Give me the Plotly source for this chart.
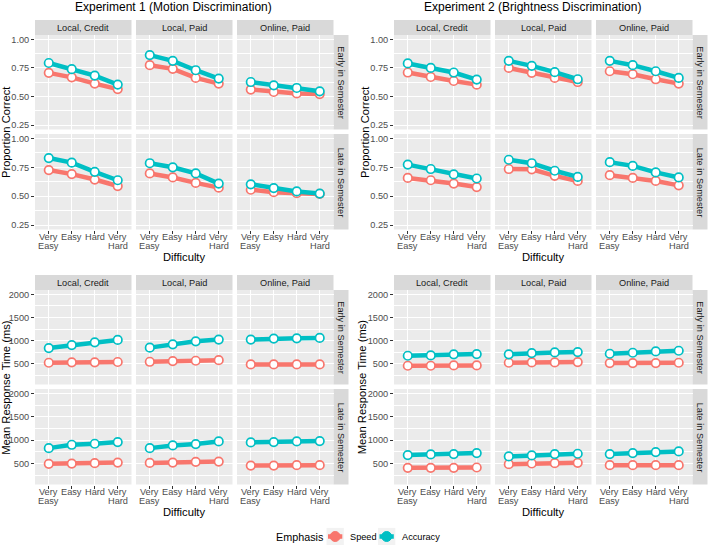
import plotly.graph_objects as go

# ---------------- data ----------------
difficulty = ["Very Easy", "Easy", "Hard", "Very Hard"]
difficulty_lines = [["Very", "Easy"], ["Easy"], ["Hard"], ["Very", "Hard"]]
conditions = ["Local, Credit", "Local, Paid", "Online, Paid"]
semesters = ["Early in Semester", "Late in Semester"]
emphasis = ["Speed", "Accuracy"]
experiment_titles = ["Experiment 1 (Motion Discrimination)", "Experiment 2 (Brightness Discrimination)"]

pc_ticks = [0.25, 0.50, 0.75, 1.00]
pc_ticklabels = ["0.25", "0.50", "0.75", "1.00"]
pc_minor = [0.375, 0.625, 0.875]
rt_ticks = [500, 1000, 1500, 2000]
rt_ticklabels = ["500", "1000", "1500", "2000"]
rt_minor = [250, 750, 1250, 1750]

# Experiment 1, proportion correct (one list per condition)
e1_pc_speed_early = [[0.707, 0.668, 0.613, 0.565], [0.774, 0.742, 0.663, 0.613], [0.561, 0.540, 0.527, 0.522]]
e1_pc_acc_early = [[0.793, 0.739, 0.683, 0.605], [0.862, 0.812, 0.730, 0.657], [0.627, 0.598, 0.575, 0.546]]
e1_pc_speed_late = [[0.726, 0.691, 0.644, 0.588], [0.697, 0.662, 0.615, 0.574], [0.556, 0.535, 0.526, 0.520]]
e1_pc_acc_late = [[0.830, 0.790, 0.711, 0.638], [0.785, 0.750, 0.697, 0.609], [0.603, 0.570, 0.541, 0.523]]

# Experiment 2, proportion correct
e2_pc_speed_early = [[0.710, 0.671, 0.636, 0.604], [0.750, 0.707, 0.663, 0.627], [0.721, 0.695, 0.651, 0.613]]
e2_pc_acc_early = [[0.789, 0.750, 0.710, 0.648], [0.812, 0.768, 0.713, 0.651], [0.812, 0.774, 0.721, 0.663]]
e2_pc_speed_late = [[0.658, 0.638, 0.609, 0.579], [0.735, 0.732, 0.676, 0.632], [0.682, 0.658, 0.632, 0.594]]
e2_pc_acc_late = [[0.773, 0.735, 0.688, 0.653], [0.815, 0.785, 0.720, 0.667], [0.794, 0.762, 0.706, 0.662]]

# Experiment 1, mean response time (ms)
e1_rt_speed_early = [[522, 530, 530, 538], [543, 557, 565, 578], [485, 485, 485, 485]]
e1_rt_acc_early = [[839, 904, 963, 1015], [848, 920, 985, 1022], [1022, 1043, 1050, 1057]]
e1_rt_speed_late = [[493, 500, 507, 521], [514, 521, 536, 543], [457, 457, 464, 464]]
e1_rt_acc_late = [[829, 901, 923, 959], [829, 887, 916, 973], [952, 959, 973, 980]]

# Experiment 2, mean response time (ms)
e2_rt_speed_early = [[457, 457, 464, 464], [522, 529, 529, 536], [515, 515, 515, 522]]
e2_rt_acc_early = [[673, 680, 703, 710], [703, 731, 745, 752], [716, 738, 767, 781]]
e2_rt_speed_late = [[408, 408, 408, 415], [487, 501, 508, 515], [465, 465, 465, 465]]
e2_rt_acc_late = [[681, 695, 702, 724], [651, 673, 702, 709], [702, 724, 745, 759]]

# ---------------- styling / layout ----------------
W, H = 708, 545
SPEED_COL = "#F8766D"
ACC_COL = "#00BFC4"
FONT = "Liberation Sans, Arial, Helvetica, sans-serif"
TICK_SIZE = 9.2
STRIP_SIZE = 9.2
AXTITLE_SIZE = 11.2
TITLE_SIZE = 12.0


def fx(x):
    return x / W


def fy(y):
    return 1 - y / H


col_x = [(35, 131.5), (136, 232.5), (237, 333.5)]
row_y = [(35, 129.5), (134, 229.5)]
top_strip = (20, 35)
right_strip = (333.5, 348.5)
block_dx = [0, 359, 0, 359]
block_dy = [0, 0, 255, 255]
tick_line_y = [236.7, 246.0]

blocks = [
    dict(series=[(e1_pc_speed_early, e1_pc_acc_early), (e1_pc_speed_late, e1_pc_acc_late)],
         rng=[0.2124, 1.0376], ticks=pc_ticks, labels=pc_ticklabels, minor=pc_minor,
         ytitle="Proportion Correct", ytx=5.8, title=experiment_titles[0]),
    dict(series=[(e2_pc_speed_early, e2_pc_acc_early), (e2_pc_speed_late, e2_pc_acc_late)],
         rng=[0.2124, 1.0376], ticks=pc_ticks, labels=pc_ticklabels, minor=pc_minor,
         ytitle="Proportion Correct", ytx=5.8, title=experiment_titles[1]),
    dict(series=[(e1_rt_speed_early, e1_rt_acc_early), (e1_rt_speed_late, e1_rt_acc_late)],
         rng=[52, 2093], ticks=rt_ticks, labels=rt_ticklabels, minor=rt_minor,
         ytitle="Mean Response Time (ms)", ytx=6.5, title=None),
    dict(series=[(e2_rt_speed_early, e2_rt_acc_early), (e2_rt_speed_late, e2_rt_acc_late)],
         rng=[52, 2093], ticks=rt_ticks, labels=rt_ticklabels, minor=rt_minor,
         ytitle="Mean Response Time (ms)", ytx=3.0, title=None),
]

fig = go.Figure()
layout = {}
shapes = []
annotations = []

for b, blk in enumerate(blocks):
    dx, dy = block_dx[b], block_dy[b]
    for r in range(2):
        for c in range(3):
            idx = b * 6 + r * 3 + c + 1
            xname = "xaxis" if idx == 1 else f"xaxis{idx}"
            yname = "yaxis" if idx == 1 else f"yaxis{idx}"
            xref = "x" if idx == 1 else f"x{idx}"
            yref = "y" if idx == 1 else f"y{idx}"
            x0, x1 = col_x[c]
            y0, y1 = row_y[r]
            bottom = r == 1
            left = c == 0
            layout[xname] = dict(
                domain=[fx(x0 + dx), fx(x1 + dx)], anchor=yref,
                type="category", categoryorder="array", categoryarray=difficulty,
                range=[-0.6, 3.6], tickvals=difficulty,
                showticklabels=False, ticks="outside" if bottom else "",
                ticklen=3, tickwidth=1, tickcolor="#333333",
                showgrid=True, gridcolor="white", gridwidth=1.1,
                zeroline=False, showline=False, fixedrange=True,
            )
            layout[yname] = dict(
                domain=[fy(y1 + dy), fy(y0 + dy)], anchor=xref,
                range=blk["rng"], tickvals=blk["ticks"], ticktext=blk["labels"],
                showticklabels=left, ticks="outside" if left else "",
                ticklen=3, tickwidth=1, tickcolor="#333333",
                tickfont=dict(family=FONT, size=TICK_SIZE, color="#4D4D4D"),
                showgrid=True, gridcolor="white", gridwidth=1.1,
                minor=dict(tickvals=blk["minor"], showgrid=True, gridcolor="white", gridwidth=0.55),
                zeroline=False, showline=False, fixedrange=True,
            )
            speed_vals, acc_vals = blk["series"][r]
            for vals, col, name in [(speed_vals[c], SPEED_COL, emphasis[0]), (acc_vals[c], ACC_COL, emphasis[1])]:
                fig.add_trace(go.Scatter(
                    x=difficulty, y=vals, xaxis=xref, yaxis=yref, name=name,
                    mode="lines+markers", showlegend=False, cliponaxis=False,
                    line=dict(color=col, width=4.5),
                    marker=dict(size=8.5, color="white", line=dict(color=col, width=1.7)),
                ))
            # x tick labels (two-line, ggplot-like line height) on bottom row
            if bottom:
                for cat, lines in zip(difficulty, difficulty_lines):
                    for li, txt in enumerate(lines):
                        annotations.append(dict(
                            text=txt, xref=xref, yref="paper", x=cat, y=fy(tick_line_y[li] + dy),
                            xanchor="center", yanchor="middle", showarrow=False,
                            font=dict(family=FONT, size=TICK_SIZE, color="#4D4D4D")))

    # top strips
    for c in range(3):
        x0, x1 = col_x[c]
        shapes.append(dict(type="rect", xref="paper", yref="paper",
                           x0=fx(x0 + dx), x1=fx(x1 + dx), y0=fy(top_strip[1] + dy), y1=fy(top_strip[0] + dy),
                           fillcolor="#D9D9D9", line=dict(width=0), layer="below"))
        annotations.append(dict(text=conditions[c], xref="paper", yref="paper",
                                x=fx((x0 + x1) / 2 + dx), y=fy((top_strip[0] + top_strip[1]) / 2 + dy),
                                xanchor="center", yanchor="middle", showarrow=False,
                                font=dict(family=FONT, size=STRIP_SIZE, color="#1A1A1A")))
    # right strips
    for r in range(2):
        y0, y1 = row_y[r]
        shapes.append(dict(type="rect", xref="paper", yref="paper",
                           x0=fx(right_strip[0] + dx), x1=fx(right_strip[1] + dx), y0=fy(y1 + dy), y1=fy(y0 + dy),
                           fillcolor="#D9D9D9", line=dict(width=0), layer="below"))
        annotations.append(dict(text=semesters[r], xref="paper", yref="paper",
                                x=fx((right_strip[0] + right_strip[1]) / 2 + dx), y=fy((y0 + y1) / 2 + dy),
                                xanchor="center", yanchor="middle", showarrow=False, textangle=90,
                                font=dict(family=FONT, size=STRIP_SIZE, color="#1A1A1A")))
    # axis titles
    annotations.append(dict(text="Difficulty", xref="paper", yref="paper",
                            x=fx((col_x[0][0] + col_x[2][1]) / 2 + dx), y=fy(257 + dy),
                            xanchor="center", yanchor="middle", showarrow=False,
                            font=dict(family=FONT, size=AXTITLE_SIZE, color="black")))
    annotations.append(dict(text=blk["ytitle"], xref="paper", yref="paper",
                            x=fx(blk["ytx"] + dx), y=fy((row_y[0][0] + row_y[1][1]) / 2 + dy),
                            xanchor="center", yanchor="middle", showarrow=False, textangle=-90,
                            font=dict(family=FONT, size=AXTITLE_SIZE, color="black")))
    if blk["title"]:
        annotations.append(dict(text=blk["title"], xref="paper", yref="paper",
                                x=fx(173 + dx), y=fy(7 + dy),
                                xanchor="center", yanchor="middle", showarrow=False,
                                font=dict(family=FONT, size=TITLE_SIZE, color="black")))

# ---------------- manual legend ----------------
leg_y = 536.5
annotations.append(dict(text="Emphasis", xref="paper", yref="paper", x=fx(274), y=fy(leg_y),
                        xanchor="left", yanchor="middle", showarrow=False,
                        font=dict(family=FONT, size=10.8, color="black")))
for kx, col, lab, tx in [(326.5, SPEED_COL, emphasis[0], 347.5), (378, ACC_COL, emphasis[1], 400)]:
    shapes.append(dict(type="rect", xref="paper", yref="paper",
                       x0=fx(kx), x1=fx(kx + 17.3), y0=fy(leg_y + 8.6), y1=fy(leg_y - 8.6),
                       fillcolor="#F2F2F2", line=dict(width=0)))
    shapes.append(dict(type="line", xref="paper", yref="paper",
                       x0=fx(kx + 1.5), x1=fx(kx + 15.8), y0=fy(leg_y), y1=fy(leg_y),
                       line=dict(color=col, width=4.5)))
    shapes.append(dict(type="circle", xref="paper", yref="paper",
                       x0=fx(kx + 8.65 - 5), x1=fx(kx + 8.65 + 5), y0=fy(leg_y + 5), y1=fy(leg_y - 5),
                       fillcolor=col, line=dict(color=col, width=1)))
    annotations.append(dict(text=lab, xref="paper", yref="paper", x=fx(tx), y=fy(leg_y),
                            xanchor="left", yanchor="middle", showarrow=False,
                            font=dict(family=FONT, size=TICK_SIZE, color="black")))

fig.update_layout(
    width=W, height=H,
    margin=dict(l=0, r=0, t=0, b=0),
    paper_bgcolor="white", plot_bgcolor="#EBEBEB",
    showlegend=False,
    shapes=shapes, annotations=annotations,
    font=dict(family=FONT),
    **layout,
)

fig.write_html("out.html")
